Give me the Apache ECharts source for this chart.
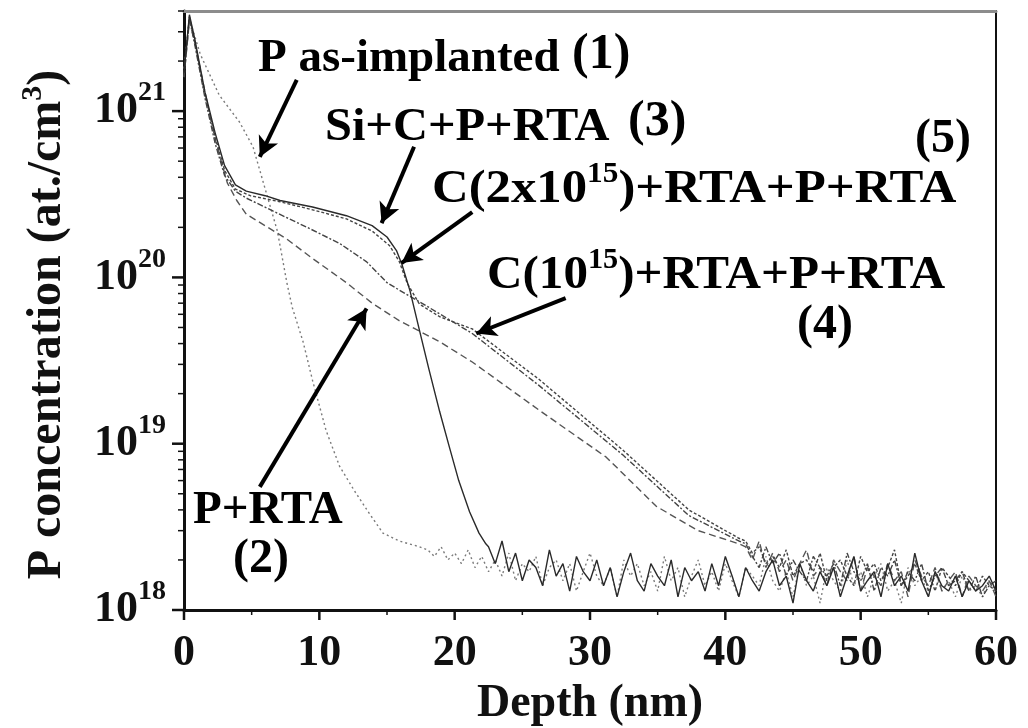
<!DOCTYPE html>
<html>
<head>
<meta charset="utf-8">
<title>P concentration profiles</title>
<script src="https://cdn.jsdelivr.net/npm/echarts@6.0.0/dist/echarts.min.js"></script>
<style>
  html, body { margin: 0; padding: 0; background: #fff; }
  #chart { width: 1028px; height: 728px; }
</style>
</head>
<body>
<div id="chart"></div>
<script>
// SIMS profiles, [depth (nm), P concentration (at./cm3)]
const asImplanted = [[0, 1.8e21], [0.4, 3.6e21], [1.2, 2.2e21], [2.6, 1.25e21], [4.1, 8.6e20], [5.1, 6.1e20],
  [6.0, 3.4e20], [6.9, 1.9e20], [7.6, 9.3e19], [8.0, 6.6e19], [8.8, 4.1e19], [9.5, 2.4e19], [10.5, 1.2e19],
  [11.5, 7.3e18], [12.6, 5.2e18], [13.7, 3.8e18], [14.7, 2.9e18], [15.9, 2.6e18], [17.4, 2.4e18]];
const pRta = [[0, 1.6e21], [0.4, 3.5e21], [0.8, 2.6e21], [1.55, 1.3e21], [2.3, 6.8e20], [3.2, 3.7e20],
  [3.9, 2.9e20], [4.6, 2.4e20], [7.6, 1.7e20], [9.5, 1.3e20], [12.0, 9.3e19], [13.9, 7.0e19], [15.9, 5.5e19],
  [18.9, 4.1e19], [21.3, 3.1e19], [26.2, 1.6e19], [31.2, 8.3e18], [34.9, 4.2e18], [38.0, 3.0e18], [41.0, 2.5e18]];
const siCpRta = [[0, 1.7e21], [0.4, 3.8e21], [0.8, 2.7e21], [1.55, 1.3e21], [2.3, 7.4e20], [3.0, 4.7e20],
  [3.8, 3.6e20], [4.6, 3.3e20], [6.0, 3.1e20], [7.1, 2.9e20], [9.5, 2.65e20], [12.0, 2.35e20], [13.9, 2.05e20],
  [15.0, 1.75e20], [15.7, 1.45e20], [16.1, 1.2e20], [16.7, 8.3e19], [17.4, 4.8e19], [18.1, 2.8e19],
  [18.9, 1.55e19], [19.6, 9.6e18], [20.3, 6.0e18], [21.1, 3.9e18], [21.8, 2.9e18], [22.3, 2.5e18]];
const c1Rta = [[0, 1.6e21], [0.4, 3.6e21], [0.8, 2.5e21], [1.55, 1.2e21], [2.3, 6.4e20], [3.0, 4.1e20],
  [3.8, 3.3e20], [4.6, 3.0e20], [6.6, 2.5e20], [9.1, 2.0e20], [11.5, 1.6e20], [13.5, 1.24e20], [15.0, 9.3e19],
  [15.9, 8.4e19], [18.1, 6.6e19], [21.3, 4.6e19], [26.2, 2.25e19], [32.4, 8.6e18], [37.3, 3.7e18], [41.0, 2.6e18]];
const c2Rta = [[0, 1.7e21], [0.4, 3.7e21], [0.8, 2.6e21], [1.55, 1.25e21], [2.3, 7.0e20], [3.0, 4.4e20],
  [3.8, 3.4e20], [4.9, 3.1e20], [7.1, 2.85e20], [9.5, 2.55e20], [12.0, 2.25e20], [13.9, 1.9e20], [15.2, 1.55e20],
  [15.9, 1.25e20], [16.5, 9.2e19], [17.4, 6.9e19], [18.9, 5.8e19], [21.3, 4.9e19], [26.2, 2.45e19],
  [32.4, 9.2e18], [37.3, 4.0e18], [41.0, 2.7e18]];

// background noise, x1e18, sampled every 0.5 nm from the given start depth
const floorAsImplanted = [2.3, 2.1, 2.4, 2.0, 2.2, 1.9, 2.3, 1.8, 2.1, 1.7,
  2.0, 1.6, 2.2, 1.5, 1.9, 1.7, 2.1, 1.4, 1.8, 2.0,
  1.5, 1.9, 1.3, 1.7, 2.2, 1.6, 1.4, 1.8, 1.2, 2.0,
  1.6, 1.9, 1.4, 1.7, 1.3, 2.1, 1.5, 1.8, 1.2, 1.6,
  2.0, 1.4, 1.7, 1.3, 1.9, 1.5, 1.2, 1.8, 1.6, 1.4,
  2.1, 1.5, 1.3, 1.7, 1.2, 1.9, 1.4, 1.6, 1.1, 1.8,
  1.5, 1.3, 2.0, 1.4, 1.7, 1.2, 1.6, 1.9, 1.3, 1.5,
  1.1, 1.8, 1.4, 1.6, 1.2, 1.7, 1.3, 1.5, 1.2, 1.6,
  1.3, 1.4, 1.2, 1.5, 1.3];
const floorSiC = [2.4, 1.9, 2.6, 1.7, 2.2, 1.5, 2.0, 1.8, 1.4, 2.3,
  1.6, 1.9, 1.3, 2.1, 1.7, 1.5, 2.0, 1.4, 1.8, 1.2,
  1.7, 2.2, 1.5, 1.3, 1.9, 1.6, 1.4, 2.0, 1.2, 1.8,
  1.5, 1.7, 1.3, 1.9, 1.4, 2.1, 1.6, 1.2, 1.8, 1.5,
  1.3, 1.7, 2.0, 1.4, 1.6, 1.1, 1.9, 1.5, 1.3, 1.7,
  1.4, 1.8, 1.2, 1.6, 2.1, 1.3, 1.5, 1.7, 1.2, 1.9,
  1.4, 1.6, 1.3, 2.2, 1.5, 1.2, 1.7, 1.4, 1.3, 1.6,
  1.2, 1.5, 1.3, 1.4, 1.6, 1.3];
const floorP = [2.4, 2.0, 2.6, 1.8, 2.2, 1.7, 2.0, 1.5, 1.9, 2.3,
  1.6, 1.8, 1.4, 2.0, 1.7, 1.5, 2.1, 1.3, 1.8, 1.6,
  1.4, 1.9, 1.5, 1.7, 1.2, 2.0, 1.6, 1.4, 1.8, 1.3,
  1.5, 1.7, 1.2, 1.6, 1.4, 1.3, 1.5, 1.2];
const floorC1 = [2.5, 2.1, 1.8, 2.4, 1.9, 2.2, 1.6, 2.0, 1.7, 1.5,
  2.1, 1.8, 1.6, 1.9, 1.4, 2.2, 1.7, 1.5, 1.9, 1.3,
  1.8, 1.6, 2.0, 1.4, 1.7, 1.5, 1.9, 1.3, 1.6, 1.8,
  1.4, 1.5, 1.7, 1.3, 1.6, 1.2, 1.4, 1.5];
const floorC2 = [2.6, 2.2, 2.4, 1.9, 2.1, 1.8, 2.3, 1.6, 1.9, 2.0,
  1.7, 2.2, 1.5, 1.8, 2.0, 1.6, 1.4, 2.1, 1.7, 1.9,
  1.5, 1.8, 2.3, 1.4, 1.6, 1.9, 1.5, 1.7, 1.3, 1.8,
  1.6, 1.4, 1.7, 1.5, 1.3, 1.6, 1.4, 1.3];

const yMin = 1e18;
const yMax = 4e21;
const yLabelValues = [1e18, 1e19, 1e20, 1e21];
const yMinorValues = [2e18, 3e18, 4e18, 5e18, 6e18, 7e18, 8e18, 9e18,
  2e19, 3e19, 4e19, 5e19, 6e19, 7e19, 8e19, 9e19,
  2e20, 3e20, 4e20, 5e20, 6e20, 7e20, 8e20, 9e20,
  2e21, 3e21, 4e21];
const xMajorValues = [0, 10, 20, 30, 40, 50, 60];
const xMinorValues = [5, 15, 25, 35, 45, 55];

// annotation arrows: [tail, tip] in data coords
const arrows = [
  [[8.33, 1.54e21], [5.6, 5.3e20]],
  [[17.0, 6.1e20], [14.6, 2.12e20]],
  [[21.3, 2.47e20], [16.07, 1.22e20]],
  [[28.2, 7.5e19], [21.6, 4.6e19]],
  [[5.6, 5.5e18], [13.49, 6.5e19]]
];

const FONT = '"Liberation Serif", "DejaVu Serif", serif';

function withFloor(profile, floor, start) {
  return profile.concat(floor.map((v, i) => [start + i * 0.5, v * 1e18]));
}

function line(name, data, color, type, width, z) {
  return {
    name, type: 'line', data, showSymbol: false, symbol: 'none', z,
    lineStyle: { color, type, width },
    emphasis: { disabled: true }, silent: true
  };
}

// axis ticks drawn at axis positions through the axis scales
// each item: [x, y, kind] kind 0 = y major, 1 = y minor, 2 = x major, 3 = x minor
const tickItems = []
  .concat(yLabelValues.map(v => [0, v, 0]))
  .concat(yMinorValues.map(v => [0, v, 1]))
  .concat(xMajorValues.map(v => [v, yMin, 2]))
  .concat(xMinorValues.map(v => [v, yMin, 3]));
const tickLen = [12, 6, 10, 5];
const tickWidth = [2.5, 1.5, 2.5, 1.5];

const chart = echarts.init(document.getElementById('chart'), null, { renderer: 'canvas' });

const series = [
  line('P as-implanted', withFloor(asImplanted, floorAsImplanted, 18), '#7a7a7a', [2, 3], 1.4, 2),
  line('P+RTA', withFloor(pRta, floorP, 41.5), '#555', [7, 4], 1.4, 3),
  line('Si+C+P+RTA', withFloor(siCpRta, floorSiC, 22.5), '#2a2a2a', 'solid', 1.4, 4),
  line('C(1e15)+RTA+P+RTA', withFloor(c1Rta, floorC1, 41.5), '#444', [6, 2, 2, 2], 1.4, 3),
  line('C(2e15)+RTA+P+RTA', withFloor(c2Rta, floorC2, 41.5), '#444', [3, 2], 1.4, 3),
  {
    name: 'ticks', type: 'custom', data: tickItems, clip: false, silent: true, z: 10,
    encode: { x: 0, y: 1 },
    renderItem: (params, api) => {
      const p = api.coord([api.value(0), api.value(1)]);
      const k = api.value(2);
      const len = tickLen[k];
      const shape = k < 2
        ? { x1: p[0] - len, y1: p[1], x2: p[0], y2: p[1] }
        : { x1: p[0], y1: p[1], x2: p[0], y2: p[1] + len };
      return { type: 'line', shape, style: { stroke: '#111', lineWidth: tickWidth[k] } };
    }
  }
];

series[2].markLine = {
  silent: true,
  animation: false,
  symbol: ['none', 'arrow'],
  symbolSize: [16, 20],
  label: { show: false },
  lineStyle: { color: '#000', width: 4, type: 'solid' },
  emphasis: { disabled: true },
  data: arrows.map(a => [{ coord: a[0] }, { coord: a[1] }])
};

const textStyle = (extra) => Object.assign({
  fill: '#000', fontFamily: FONT, fontWeight: 'bold', fontSize: 47, verticalAlign: 'middle'
}, extra);
const supRich = { s: { fontFamily: FONT, fontWeight: 'bold', fontSize: 29, lineHeight: 29, verticalAlign: 'top', fill: '#000' } };

chart.setOption({
  animation: false,
  backgroundColor: '#fff',
  grid: {
    left: 184, right: 32, top: 11, bottom: 118,
    show: true, borderColor: '#111', borderWidth: 2, backgroundColor: 'transparent',
    outerBoundsMode: 'none'
  },
  xAxis: [{
    type: 'value', min: 0, max: 60, interval: 10,
    name: 'Depth (nm)', nameLocation: 'middle', nameGap: 69,
    nameTextStyle: { fontFamily: FONT, fontWeight: 'bold', fontSize: 46, color: '#111' },
    axisLine: { lineStyle: { color: '#111', width: 3 } },
    axisTick: { show: false },
    axisLabel: { fontFamily: FONT, fontWeight: 'bold', fontSize: 44, color: '#111', margin: 22 },
    splitLine: { show: false }
  }, {
    type: 'value', min: 0, max: 60, position: 'top',
    axisLine: { lineStyle: { color: '#8c8c8c', width: 3 } },
    axisTick: { show: false }, axisLabel: { show: false }, splitLine: { show: false }
  }],
  yAxis: [{
    type: 'log', logBase: 10, min: yMin, max: yMax, position: 'left',
    name: 'P concentration (at./cm{s|3})', nameLocation: 'middle', nameGap: 106,
    nameTextStyle: {
      fontFamily: FONT, fontWeight: 'bold', fontSize: 48, color: '#111', lineHeight: 60,
      padding: [0, 28, 0, 0],
      rich: { s: { fontFamily: FONT, fontWeight: 'bold', fontSize: 30, lineHeight: 30, verticalAlign: 'top', color: '#111' } }
    },
    axisLine: { lineStyle: { color: '#111', width: 3 } },
    axisTick: { show: false },
    axisLabel: {
      customValues: yLabelValues, margin: 18,
      formatter: v => '{n|10}{s|' + Math.round(Math.log10(v)) + '}',
      rich: {
        n: { fontFamily: FONT, fontWeight: 'bold', fontSize: 44, lineHeight: 64, color: '#111' },
        s: { fontFamily: FONT, fontWeight: 'bold', fontSize: 28, lineHeight: 28, verticalAlign: 'top', color: '#111' }
      }
    },
    splitLine: { show: false }
  }],
  series,
  graphic: [
    { type: 'text', x: 258, y: 59, style: textStyle({ text: 'P as-implanted' }) },
    { type: 'text', x: 572, y: 55, style: textStyle({ text: '(1)', fontSize: 50 }) },
    { type: 'text', x: 325, y: 128, scaleX: 1.03, style: textStyle({ text: 'Si+C+P+RTA' }) },
    { type: 'text', x: 628, y: 122, style: textStyle({ text: '(3)', fontSize: 50 }) },
    { type: 'text', x: 915, y: 140, style: textStyle({ text: '(5)', fontSize: 48 }) },
    { type: 'text', x: 432, y: 190, scaleX: 1.08, style: textStyle({ text: 'C(2x10{s|15})+RTA+P+RTA', lineHeight: 60, rich: supRich }) },
    { type: 'text', x: 487, y: 276, scaleX: 1.045, style: textStyle({ text: 'C(10{s|15})+RTA+P+RTA', lineHeight: 60, rich: supRich }) },
    { type: 'text', x: 797, y: 326, style: textStyle({ text: '(4)', fontSize: 48 }) },
    { type: 'text', x: 193, y: 511, style: textStyle({ text: 'P+RTA' }) },
    { type: 'text', x: 233, y: 560, style: textStyle({ text: '(2)', fontSize: 48 }) }
  ]
});
</script>
</body>
</html>
